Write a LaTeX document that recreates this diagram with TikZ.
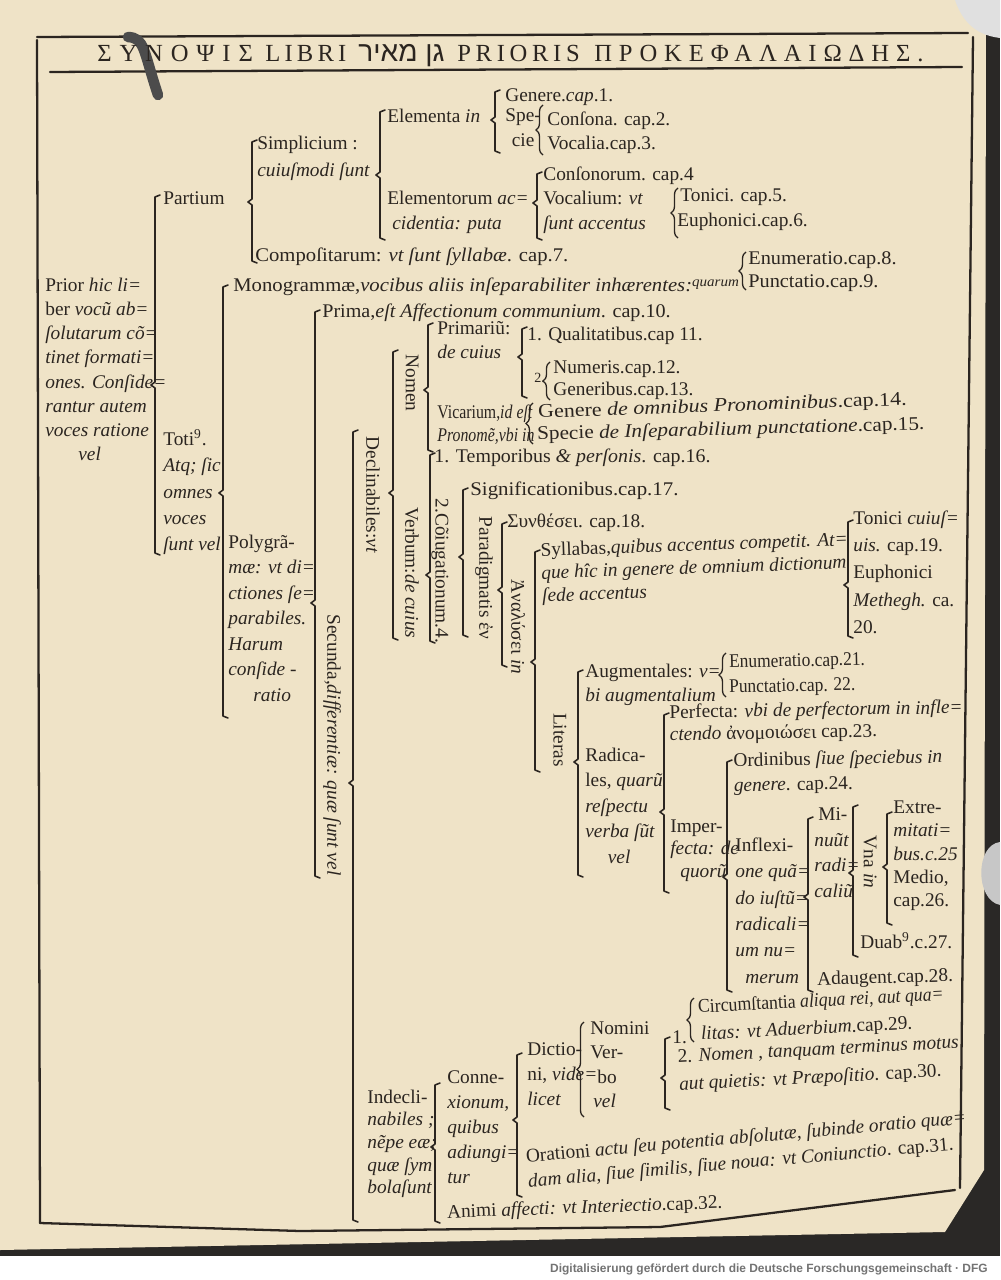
\documentclass[tikz,border=0pt]{standalone}
\usepackage{fontspec}
\usepackage{graphicx}
\setmainfont{Liberation Serif}
\newfontfamily\hebr[Script=Hebrew]{Liberation Sans}
\newfontfamily\dfgfont{Liberation Sans}
\TeXXeTstate=1
\usetikzlibrary{decorations.pathreplacing}
\definecolor{inkc}{HTML}{2B2520}
\definecolor{pagec}{HTML}{EFE3C7}
\definecolor{scanbg}{HTML}{2A2826}
\tikzset{
  syn/.style={anchor=base west, inner sep=0pt, align=left, text=inkc,
    font=\fontsize{11}{#1}\selectfont},
  syn/.default=13.8,
  synm/.style={syn=#1, anchor=north west, yshift=10pt,
    execute at begin node=\rule{0pt}{10pt}},
  synm/.default=13.8,
  synrot/.style={inner sep=0pt, rotate=-90, text=inkc, font=\fontsize{11}{13}\selectfont},
  syntitle/.style={anchor=base west, inner sep=0pt, text=inkc,
    font=\fontsize{14}{16}\selectfont\addfontfeature{LetterSpace=#1}},
  syntitle/.default=28,
  brkline/.style={line width=0.9pt, line cap=round, line join=round, draw=inkc},
  crl/.style={line width=0.75pt, draw=inkc, decorate, decoration={brace, amplitude=4pt}},
  framel/.style={line width=1.3pt, draw=inkc, line cap=round, line join=round},
}
% Klammer: x, oben, unten, Spitze
\newcommand\brk[4]{\draw[brkline] (#1+5,#2) -- (#1,#2+2) -- (#1,#4-3) -- (#1-4,#4) -- (#1,#4+3) -- (#1,#3-2) -- (#1+5,#3);}
% geschweifte Klammer: x, oben, unten
\newcommand\crlb[3]{\draw[crl] (#1,#3) -- (#1,#2);}
% waagrecht gedehnt
\newcommand\sx[2]{\scalebox{#1}[1]{#2}}

\begin{document}
\begin{tikzpicture}[x=0.02cm, y=-0.02cm]
  \useasboundingbox (0,0) rectangle (1000,1280);
  % 紙面
  \fill[scanbg] (0,0) rectangle (1000,1280);
  \fill[pagec] (0,0) -- (986,0) -- (984,1170) -- (945,1232) -- (0,1250) -- cycle;
  \fill[black!12] (955,0) -- (1000,0) -- (1000,38) .. controls (985,36) and (965,30) .. cycle;
  \fill[black!22] (1000,842) .. controls (975,845) and (975,900) .. (1000,905) -- cycle;
  \fill[white] (0,1256) rectangle (1000,1280);
  \node[anchor=base east, inner sep=0pt, text=black!55, font=\dfgfont\bfseries\fontsize{6.8}{8}\selectfont]
    (dfg) at (988,1272) {Digitalisierung gefördert durch die Deutsche Forschungsgemeinschaft · DFG};

  % 枠
  \draw[framel] (37,37) -- (968,33);
  \draw[framel] (50,72) -- (962,67);
  \draw[framel] (37,40) -- (40,1223);
  \draw[framel] (973,37) -- (960,1188);
  \draw[framel] (40,1223) -- (300,1231) -- (660,1227) -- (955,1190);
  \draw[line width=6pt, draw=black!70, line cap=round] (128,37) .. controls (145,38) and (143,50) .. (158,95);

  % 表題
  \node[syntitle=32] (tsyn) at (97,62) {ΣΥΝΟΨΙΣ};
  \node[syntitle=17] (tlib) at (265,62) {LIBRI};
  \node[anchor=base west, inner sep=0pt, text=inkc, font=\fontsize{16}{18}\selectfont\hebr] (theb) at (358,62) {\beginR גן מאיר\endR};
  \node[syntitle=19] (tpri) at (457,62) {PRIORIS};
  \node[syntitle=28] (tpro) at (594,62) {ΠΡΟΚΕΦΑΛΑΙΩΔΗΣ.};

  % Partium
  \node[synm] (prior) at (45,295) {Prior \textit{hic li=}\\ber \textit{vocũ ab=}\\\textit{ſolutarum cõ=}\\\textit{tinet formati=}\\\textit{ones. Conſide=}\\\textit{rantur autem}\\\textit{voces ratione}\\\hspace*{0.66cm}\textit{vel}};
  \brk{155}{195}{555}{385}
  \node[syn] (partium) at (163,205) {Partium};
  \brk{252}{140}{263}{202}
  \node[synm=15.3] (simpl) at (257,153) {Simplicium :\\\textit{cuiuſmodi ſunt}};
  \brk{380}{110}{240}{175}
  \node[syn] (elemin) at (387,123) {Elementa \textit{in}};
  \brk{495}{90}{153}{120}
  \node[syn] (genere) at (505,102) {Genere.\textit{cap}.1.};
  \node[synm=14, align=center] (specie) at (505,126) {Spe-\\cie};
  \crlb{543}{105}{155}
  \node[syn] (consona) at (547,126) {Conſona. cap.2.};
  \node[syn] (vocalia) at (547,150) {Vocalia.cap.3.};
  \node[synm=14.2] (elemacc) at (387,208) {Elementorum \textit{ac=}\\\hspace*{0.1cm}\textit{cidentia: puta}};
  \brk{537}{172}{240}{203}
  \node[syn] (consonor) at (543,181) {Conſonorum. cap.4};
  \node[synm=14.2] (vocalium) at (543,208) {Vocalium: \textit{vt}\\\textit{ſunt accentus}};
  \crlb{678}{188}{238}
  \node[syn] (tonici) at (680,202) {Tonici. cap.5.};
  \node[syn] (euphon) at (677,227) {Euphonici.cap.6.};
  \node[syn] (compos) at (255,262) {\sx{1.07}{Compoſitarum: \textit{vt ſunt ſyllabæ}. cap.7.}};

  % Monogrammae
  \brk{223}{285}{718}{493}
  \node[syn] (monogr) at (233,292) {\sx{1.07}{Monogrammæ,\textit{vocibus aliis inſeparabiliter inhærentes:}\raisebox{3pt}{\footnotesize\textit{quarum}}}};
  \crlb{746}{252}{290}
  \node[syn] (enum8) at (748,265) {\sx{1.05}{Enumeratio.cap.8.}};
  \node[syn] (punct9) at (748,288) {\sx{1.05}{Punctatio.cap.9.}};
  \node[synm=14.9] (toti) at (163,447) {Toti\textsuperscript{9}.\\\textit{Atq; ſic}\\\textit{omnes}\\\textit{voces}\\\textit{ſunt vel}};
  \node[synm=14.5] (polygr) at (228,552) {Polygrã-\\\textit{mæ: vt di=}\\\textit{ctiones ſe=}\\\textit{parabiles.}\\\textit{Harum}\\\textit{conſide -}\\\hspace*{0.5cm}\textit{ratio}};

  % Polygrammae
  \brk{315}{310}{878}{603}
  \node[syn] (prima) at (322,317) {\sx{1.04}{Prima,\textit{eſt Affectionum communium}. cap.10.}};
  \node[synrot] (secunda) at (332,745) {Secunda,\textit{differentiæ: quæ ſunt vel}};
  \brk{353}{430}{1222}{783}
  \node[synrot] (declin) at (373,495) {Declinabiles:\textit{vt}};
  \brk{393}{350}{640}{493}
  \node[synrot] (nomen) at (412,383) {Nomen};
  \brk{428}{323}{452}{390}
  \node[synm=13.6] (primar) at (437,339) {Primariũ:\\\textit{de cuius}};
  \brk{522}{327}{398}{357}
  \node[syn] (qualit) at (527,340) {1. Qualitatibus.cap 11.};
  \node[syn, font=\footnotesize] (zwei) at (534,382) {2.};
  \crlb{550}{362}{400}
  \node[syn] (numer) at (553,373) {Numeris.cap.12.};
  \node[syn] (generib) at (553,395) {Generibus.cap.13.};
  \node[syn] (vicar) at (437,418) {\sx{0.82}{Vicarium,\textit{id eſt}}};
  \node[syn] (pronom) at (437,441) {\sx{0.82}{\textit{Pronomẽ,vbi in}}};
  \crlb{533}{403}{444}
  \node[syn, rotate=2] (gen14) at (538,418) {\sx{1.14}{Genere \textit{de omnibus Pronominibus}.cap.14.}};
  \node[syn, rotate=1.5] (spec15) at (537,440) {\sx{1.1}{Specie \textit{de Inſeparabilium punctatione}.cap.15.}};

  % Verbum
  \node[synrot] (verbum) at (412,573) {Verbum:\textit{de cuius}};
  \brk{430}{453}{643}{575}
  \node[syn] (tempor) at (434,462) {\sx{1.03}{1. Temporibus \textit{\& perſonis}. cap.16.}};
  \node[synrot] (coniug) at (440,571) {2.Cõiugationum.4.};
  \brk{463}{488}{637}{557}
  \node[syn] (signif) at (470,495) {\sx{1.08}{Significationibus.cap.17.}};
  \node[synrot] (paradig) at (484,578) {Paradigmatis ἐν};
  \brk{502}{522}{667}{590}
  \node[syn] (synth) at (507,527) {Συνθέσει. cap.18.};
  \node[synrot] (analys) at (518,627) {Ἀναλύσει \textit{in}};
  \brk{535}{550}{772}{662}
  \node[synm=13, rotate=2] (syllab) at (540,560) {Syllabas,\textit{quibus accentus competit. At=}\\\textit{que hîc in genere de omnium dictionum}\\\textit{ſede accentus}};
  \brk{848}{520}{638}{585}
  \node[synm=15.5] (tonicu) at (853,528) {Tonici \textit{cuiuſ=}\\\textit{uis.} cap.19.\\Euphonici\\\textit{Methegh.} ca.\\20.};

  % Literas
  \node[synrot] (literas) at (560,740) {Literas};
  \brk{578}{670}{877}{762}
  \node[synm=14] (augm) at (585,681) {Augmentales: \textit{v=}\\\textit{bi augmentalium}};
  \crlb{726}{653}{697}
  \node[syn, rotate=1.2] (enum21) at (729,668) {\sx{0.9}{Enumeratio.cap.21.}};
  \node[syn, rotate=1.2] (punct22) at (729,693) {\sx{0.9}{Punctatio.cap. 22.}};
  \node[synm=14.5] (radic) at (585,765) {Radica-\\les, \textit{quarũ}\\\textit{reſpectu}\\\textit{verba ſũt}\\\hspace*{0.45cm}\textit{vel}};
  \brk{664}{713}{893}{812}
  \node[synm=12.6, rotate=1] (perf) at (669,722) {Perfecta: \textit{vbi de perfectorum in infle=}\\\textit{ctendo} ἀνομοιώσει cap.23.};
  \node[synm=12.8] (imperf) at (670,837) {Imper-\\\textit{fecta: de}\\\hspace*{0.2cm}\textit{quorũ}};
  \brk{727}{760}{992}{877}
  \node[synm=14.2, rotate=1] (ordin) at (733,770) {Ordinibus \textit{ſiue ſpeciebus in}\\\textit{genere}. cap.24.};
  \node[synm=15] (inflex) at (735,855) {Inflexi-\\\textit{one quã=}\\\textit{do iuſtũ=}\\\textit{radicali=}\\\textit{um nu=}\\\hspace*{0.2cm}\textit{merum}};
  \brk{808}{817}{992}{897}
  \node[synm=14.6] (minu) at (814,825) {\hspace*{0.08cm}Mi-\\\textit{nuũt}\\\textit{radi=}\\\textit{caliũ}};
  \brk{853}{805}{957}{873}
  \node[synrot] (vnain) at (870,862) {Vna \textit{in}};
  \brk{887}{812}{925}{867}
  \node[synm=13.3] (extrem) at (893,818) {Extre-\\\textit{mitati=}\\\textit{bus.c.25}\\Medio,\\cap.26.};
  \node[syn] (duab) at (860,948) {Duab\textsuperscript{9}.c.27.};
  \node[syn, rotate=1.5] (adaug) at (817,985) {Adaugent.cap.28.};

  % Indeclinabiles
  \node[synm=12.9] (indecl) at (367,1107) {Indecli-\\\textit{nabiles ;}\\\textit{nẽpe eæ;}\\\textit{quæ ſym}\\\textit{bolaſunt}};
  \brk{435}{1083}{1223}{1147}
  \node[synm=14.2] (connex) at (447,1088) {Conne-\\\textit{xionum,}\\\textit{quibus}\\\textit{adiungi=}\\\textit{tur}};
  \node[syn, rotate=2] (animi) at (447,1218) {Animi \textit{affecti: vt Interiectio}.cap.32.};
  \brk{517}{1053}{1197}{1120}
  \node[synm=14.2] (dictio) at (527,1060) {Dictio-\\ni, \textit{vide=}\\\textit{licet}};
  \crlb{584}{1022}{1117}
  \node[synm=13.8] (nomini) at (590,1039) {Nomini\\Ver-\\\hspace*{0.14cm}bo\\\hspace*{0.06cm}\textit{vel}};
  \brk{665}{1037}{1110}{1078}
  \node[syn] (eins) at (672,1043) {1.};
  \crlb{694}{998}{1042}
  \node[syn, rotate=3] (circum) at (698,1013) {\sx{0.92}{Circumſtantia \textit{aliqua rei, aut qua=}}};
  \node[syn, rotate=3] (litas) at (701,1040) {\textit{litas: vt Aduerbium}.cap.29.};
  \node[synm=15.9, rotate=3] (nomen2) at (677,1067) {2. \textit{Nomen , tanquam terminus motus}\\\textit{aut quietis: vt Præpoſitio}. cap.30.};
  \node[synm=14.2, rotate=5] (oratio) at (525,1166) {Orationi \textit{actu ſeu potentia abſolutæ, ſubinde oratio quæ=}\\\textit{dam alia, ſiue ſimilis, ſiue noua: vt Coniunctio}. cap.31.};
\end{tikzpicture}
\end{document}
